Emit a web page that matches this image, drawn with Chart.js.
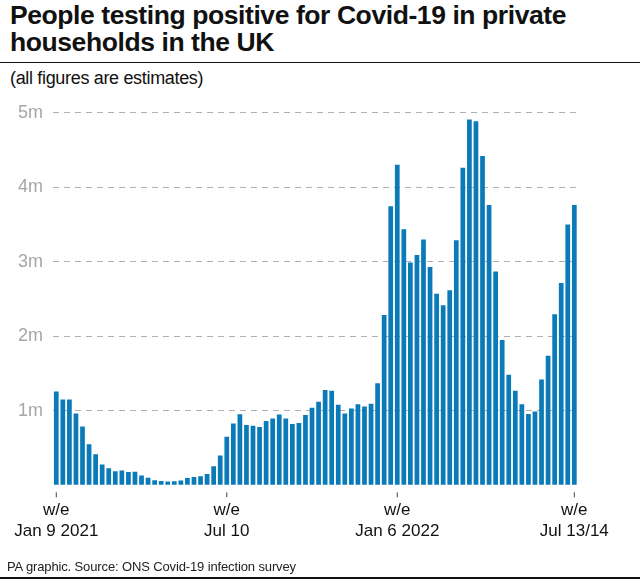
<!DOCTYPE html>
<html>
<head>
<meta charset="utf-8">
<script src="https://cdn.jsdelivr.net/npm/chart.js@4/dist/chart.umd.min.js"></script>
<style>
  html, body { margin: 0; padding: 0; background: #fff; }
  body { width: 640px; height: 582px; position: relative; overflow: hidden; font-family: "Liberation Sans", sans-serif; color: #111; }
  canvas { position: absolute; left: 0; top: 0; }
  .txt { position: absolute; white-space: nowrap; }
  #title { left: 10px; top: 2px; font-size: 26.5px; line-height: 26.5px; font-weight: bold; letter-spacing: -0.42px; }
  #sub { left: 10px; top: 68px; font-size: 18px; line-height: 20px; letter-spacing: -0.33px; }
  #source { left: 7px; top: 559px; font-size: 13px; line-height: 16px; letter-spacing: -0.13px; color: #222; }
  .rule { position: absolute; left: 0; width: 640px; background: #111; }
</style>
</head>
<body>
<div class="txt" id="title">People testing positive for Covid-19 in private<br>households in the UK</div>
<div class="rule" style="top:61.5px;height:1.5px"></div>
<div class="txt" id="sub">(all figures are estimates)</div>
<canvas id="chart" width="640" height="582"></canvas>
<div class="txt" id="source">PA graphic. Source: ONS Covid-19 infection survey</div>
<div class="rule" style="top:577px;height:1.5px"></div>
<script>
// one value per week, millions
const weeks = [
  0, 1, 2, 3, 4, 5, 6, 7, 8, 9,
  10, 11, 12, 13, 14, 15, 16, 17, 18, 19,
  20, 21, 22, 23, 24, 25, 26, 27, 28, 29,
  30, 31, 32, 33, 34, 35, 36, 37, 38, 39,
  40, 41, 42, 43, 44, 45, 46, 47, 48, 49,
  50, 51, 52, 53, 54, 55, 56, 57, 58, 59,
  60, 61, 62, 63, 64, 65, 66, 67, 68, 69,
  70, 71, 72, 73, 74, 75, 76, 77, 78, 79
];
const positives = [
  1.26, 1.15, 1.15, 0.965, 0.79, 0.55, 0.416, 0.28, 0.23, 0.19,
  0.197, 0.18, 0.183, 0.13, 0.10, 0.067, 0.058, 0.05, 0.054, 0.063,
  0.098, 0.11, 0.12, 0.152, 0.255, 0.40, 0.65, 0.83, 0.953, 0.81,
  0.80, 0.783, 0.864, 0.895, 0.95, 0.895, 0.823, 0.837, 0.944, 1.04,
  1.12, 1.28, 1.27, 1.08, 0.965, 1.03, 1.087, 1.056, 1.096, 1.37,
  2.286, 3.745, 4.30, 3.436, 2.99, 3.09, 3.30, 2.93, 2.57, 2.416,
  2.617, 3.288, 4.26, 4.91, 4.885, 4.42, 3.76, 2.87, 1.95, 1.485,
  1.27, 1.087, 0.957, 0.99, 1.42, 1.74, 2.295, 2.715, 3.50, 3.76
];
const xTickWeeks = [0, 26, 52, 79];
const xTickLabels = [['w/e', 'Jan 9 2021'], ['w/e', 'Jul 10'], ['w/e', 'Jan 6 2022'], ['w/e', 'Jul 13/14']];
const yTickLabels = ['', '1m', '2m', '3m', '4m', '5m'];

// short tick marks that sit a few px below the axis
const xTickMarks = {
  id: 'xTickMarks',
  afterDraw(chart) {
    const { ctx, scales: { x } } = chart;
    ctx.save();
    ctx.strokeStyle = '#444';
    ctx.lineWidth = 1;
    x.ticks.forEach((t, i) => {
      const px = x.getPixelForTick(i);
      ctx.beginPath();
      ctx.moveTo(px, x.top + 7);
      ctx.lineTo(px, x.top + 12);
      ctx.stroke();
    });
    ctx.restore();
  }
};

new Chart(document.getElementById('chart'), {
  type: 'bar',
  data: {
    labels: weeks,
    datasets: [{
      data: positives,
      backgroundColor: '#0a7bb8',
      barPercentage: 1,
      categoryPercentage: 0.72
    }]
  },
  plugins: [xTickMarks],
  options: {
    responsive: false,
    animation: false,
    layout: { padding: { top: 112.7, right: 62.4, bottom: 0, left: 0 } },
    plugins: { legend: { display: false }, tooltip: { enabled: false } },
    scales: {
      x: {
        afterBuildTicks: (axis) => { axis.ticks = xTickWeeks.map((w) => ({ value: w })); },
        afterFit: (axis) => { axis.height = 582 - 485.3; },
        border: { display: false },
        grid: { display: false },
        ticks: {
          autoSkip: false,
          maxRotation: 0,
          padding: 7,
          color: '#111',
          font: { family: '"Liberation Sans"', size: 17, lineHeight: 1.2 },
          callback: (v) => xTickLabels[xTickWeeks.indexOf(v)]
        }
      },
      y: {
        min: 0,
        max: 5,
        afterFit: (axis) => { axis.width = 53; },
        border: { display: false, dash: [6, 5] },
        grid: {
          drawTicks: false,
          color: (c) => (c.tick.value === 0 ? 'transparent' : '#b0b0b0'),
          lineWidth: 1
        },
        ticks: {
          stepSize: 1,
          padding: 10,
          color: '#a6a6a6',
          font: { family: '"Liberation Sans"', size: 18 },
          callback: (v) => yTickLabels[v]
        }
      }
    }
  }
});
</script>
</body>
</html>
